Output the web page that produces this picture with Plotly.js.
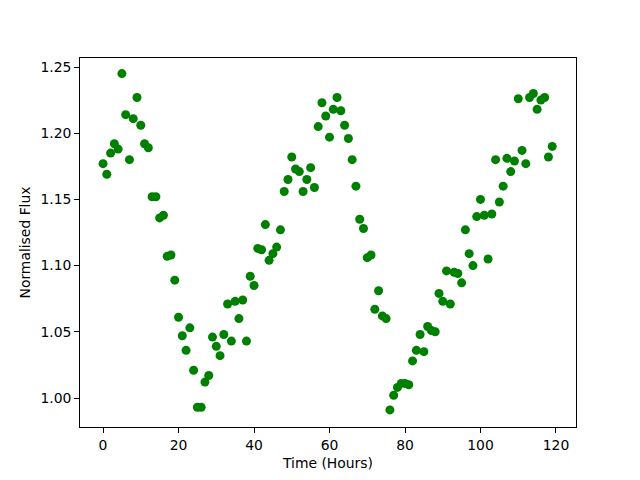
<!DOCTYPE html>
<html><head><meta charset="utf-8">
<script src="https://cdn.plot.ly/plotly-3.0.1.min.js"></script>
<style>body{margin:0;padding:0;}#chart{width:640px;height:480px;}</style>
</head><body><div id="chart"></div>
<script>
const hours = [];
for (let i = 0; i < 120; i++) hours.push(i);
const flux = [
1.177,1.169,1.185,1.192,1.188,1.245,1.214,1.180,1.211,1.227,
1.206,1.192,1.189,1.152,1.152,1.136,1.138,1.107,1.108,1.089,
1.061,1.047,1.036,1.053,1.021,0.993,0.993,1.012,1.017,1.046,
1.039,1.032,1.048,1.071,1.043,1.073,1.060,1.074,1.043,1.092,
1.085,1.113,1.112,1.131,1.104,1.109,1.114,1.127,1.156,1.165,
1.182,1.173,1.171,1.156,1.165,1.174,1.159,1.205,1.223,1.213,
1.197,1.218,1.227,1.217,1.206,1.196,1.180,1.160,1.135,1.128,
1.106,1.108,1.067,1.081,1.062,1.060,0.991,1.002,1.008,1.011,
1.011,1.010,1.028,1.036,1.048,1.035,1.054,1.051,1.050,1.079,
1.073,1.096,1.071,1.095,1.094,1.087,1.127,1.109,1.100,1.137,
1.150,1.138,1.105,1.139,1.180,1.148,1.160,1.181,1.171,1.179,
1.226,1.187,1.177,1.227,1.230,1.218,1.225,1.227,1.182,1.190
];
const font = {family: 'DejaVu Sans', size: 13.9, color: '#000'};
const axisCommon = {
  showline: true, mirror: true, linecolor: '#000', linewidth: 1,
  ticks: 'outside', ticklen: 4.9, tickcolor: '#000', tickwidth: 1,
  showgrid: false, zeroline: false, tickfont: font
};
Plotly.newPlot('chart', [{
  x: hours, y: flux, type: 'scatter', mode: 'markers',
  marker: {color: '#008000', size: 9}
}], {
  width: 640, height: 480,
  margin: {l: 80, r: 64, t: 58, b: 53},
  paper_bgcolor: '#fff', plot_bgcolor: '#fff',
  font: font, showlegend: false,
  xaxis: Object.assign({}, axisCommon, {
    range: [-6.1, 125.3], tickvals: [0,20,40,60,80,100,120],
    title: {text: 'Time (Hours)', font: font, standoff: 6}
  }),
  yaxis: Object.assign({}, axisCommon, {
    range: [0.9781, 1.2568], tickvals: [1.00,1.05,1.10,1.15,1.20,1.25],
    tickformat: '.2f',
    title: {text: 'Normalised Flux', font: font, standoff: 6}
  })
}, {staticPlot: true});
</script></body></html>
